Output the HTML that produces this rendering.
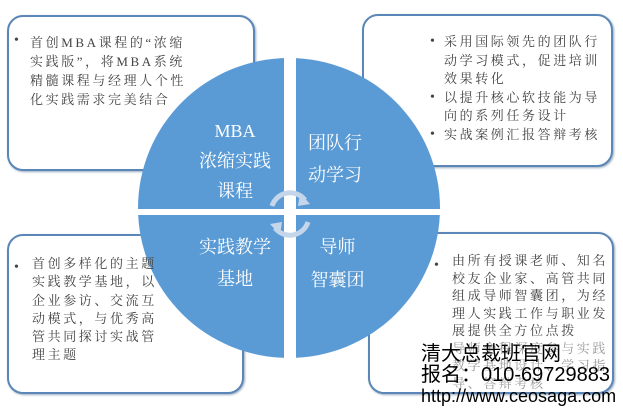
<!DOCTYPE html>
<html><head><meta charset="utf-8"><style>
body{margin:0;width:623px;height:408px;background:#fff;position:relative;overflow:hidden;font-family:"Liberation Serif","Noto Serif CJK SC",serif;}
.box{position:absolute;border:2px solid #5a86b8;border-radius:16px;background:#fff;box-sizing:border-box;box-shadow:1px 1px 2px #9ab;}
.t{position:absolute;color:#444;font-size:13px;letter-spacing:2.6px;white-space:nowrap;}
.b{position:absolute;color:#444;font-size:14px;}
.q{position:absolute;color:#fff;font-size:18px;text-align:center;font-family:"Liberation Serif","Noto Serif CJK SC",serif;white-space:nowrap;}
.wm{position:absolute;color:#000;font-family:"Liberation Sans","Noto Sans CJK SC",sans-serif;white-space:nowrap;}
</style></head><body>
<div class="box" style="left:7px;top:15px;width:248px;height:156px"></div>
<div class="box" style="left:362px;top:14px;width:251px;height:153px"></div>
<div class="box" style="left:7px;top:234px;width:237px;height:160px"></div>
<div class="box" style="left:368px;top:232px;width:246px;height:162px"></div>
<svg style="position:absolute;left:0;top:0" width="623" height="408">
<ellipse cx="289" cy="208" rx="151" ry="150" fill="#5b9bd5"/>
<rect x="284" y="50" width="12" height="320" fill="#fff"/>
<rect x="130" y="209" width="320" height="6" fill="#fff"/>
<path d="M272 206 A19 19 0 0 1 305 200" stroke="#c5d5ea" stroke-width="5" fill="none"/>
<path d="M300 193 L310 204 L298 206 Z" fill="#c5d5ea"/>
<path d="M308 222 A19 19 0 0 1 275 228" stroke="#c5d5ea" stroke-width="5" fill="none"/>
<path d="M280 235 L270 224 L282 222 Z" fill="#c5d5ea"/>
</svg>
<div class="b" style="left:14px;top:33px">•</div>
<div class="t" style="left:30px;top:33px;line-height:19px">首创MBA课程的“浓缩<br>实践版”，将MBA系统<br>精髓课程与经理人个性<br>化实践需求完美结合</div>
<div class="b" style="left:430px;top:33px;line-height:18.5px">•<br><br><br>•<br><br>•</div>
<div class="t" style="left:444px;top:33px;line-height:18.5px">采用国际领先的团队行<br>动学习模式，促进培训<br>效果转化<br>以提升核心软技能为导<br>向的系列任务设计<br>实战案例汇报答辩考核</div>
<div class="b" style="left:14px;top:260px">•</div>
<div class="t" style="left:32px;top:255px;line-height:18.3px">首创多样化的主题<br>实践教学基地，以<br>企业参访、交流互<br>动模式，与优秀高<br>管共同探讨实战管<br>理主题</div>
<div class="b" style="left:434px;top:258px">•</div>
<div class="t" style="left:452px;top:252px;line-height:17.5px">由所有授课老师、知名<br>校友企业家、高管共同<br>组成导师智囊团，为经<br>理人实践工作与职业发<br>展提供全方位点拨<br><span style="color:#999">导师全程深度参与实践<br>教学基地设计、学习指<br>导、答辩考核</span></div>
<div class="q" style="left:190px;top:116px;width:90px;line-height:30px">MBA<br>浓缩实践<br>课程</div>
<div class="q" style="left:300px;top:127px;width:70px;line-height:32px">团队行<br>动学习</div>
<div class="q" style="left:190px;top:231px;width:90px;line-height:32px">实践教学<br>基地</div>
<div class="q" style="left:300px;top:231px;width:75px;line-height:33px">导师<br>智囊团</div>
<div class="wm" style="left:421px;top:343px;font-size:20px;line-height:22px">清大总裁班官网</div>
<div class="wm" style="left:421px;top:364px;font-size:20px;line-height:22px">报名：010-69729883</div>
<div class="wm" style="left:421px;top:386px;font-size:18px;line-height:20px">http://www.ceosaga.com</div>
</body></html>
